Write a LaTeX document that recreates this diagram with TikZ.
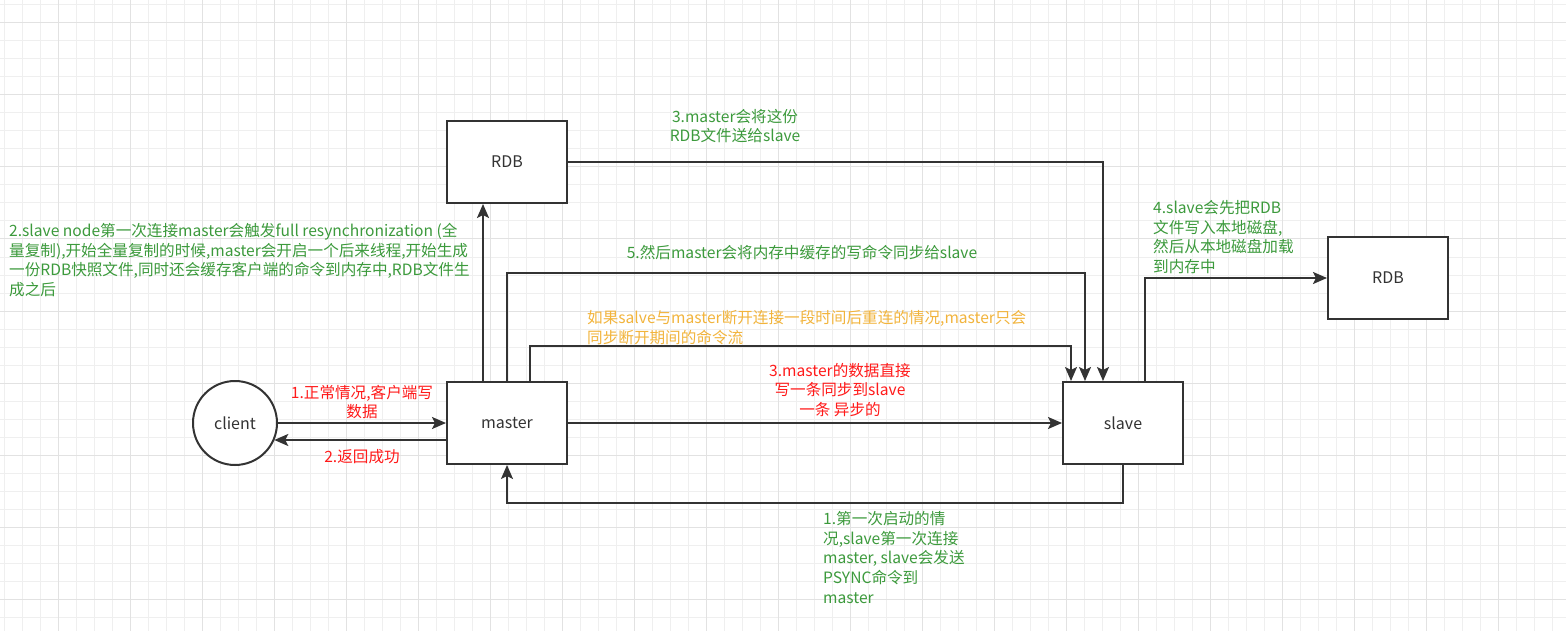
\documentclass[tikz,border=0pt]{standalone}
\usepackage{fontspec}
\setmainfont{Noto Sans CJK SC}
\usetikzlibrary{arrows.meta}
\definecolor{gridminor}{HTML}{EFEFEF}
\definecolor{gridmajor}{HTML}{E2E2E2}
\definecolor{ink}{HTML}{333333}
\definecolor{tgreen}{HTML}{3C9A3C}
\definecolor{tred}{HTML}{FF1A1A}
\definecolor{torange}{HTML}{F2B43C}
\begin{document}
\begin{tikzpicture}[x=1pt,y=-1pt,
  box/.style={draw=ink, line width=2pt, fill=white, minimum width=120pt, minimum height=82pt, inner sep=0pt, font=\fontsize{16}{19}\selectfont, text=ink},
  circ/.style={draw=ink, line width=2pt, fill=white, circle, minimum size=84pt, inner sep=0pt, font=\fontsize{16}{19}\selectfont, text=ink},
  arr/.style={draw=ink, line width=2pt, -{Stealth[length=14pt,width=12pt,inset=3pt]}},
  lbl/.style={inner sep=0pt, font=\fontsize{15.6}{19.6}\selectfont},
  gtext/.style={lbl, text=tgreen},
  rtext/.style={lbl, text=tred},
  otext/.style={lbl, text=torange}]
\useasboundingbox (0,0) rectangle (1566,631);
\fill[white] (0,0) rectangle (1566,631);
% grid
\foreach \k in {0,...,86} {\draw[gridminor, line width=1pt] ({4+18*\k},0) -- ({4+18*\k},631);}
\foreach \k in {0,...,34} {\draw[gridminor, line width=1pt] (0,{5+18*\k}) -- (1566,{5+18*\k});}
\foreach \k in {0,...,21} {\draw[gridmajor, line width=1pt] ({58+72*\k},0) -- ({58+72*\k},631);}
\foreach \k in {0,...,8} {\draw[gridmajor, line width=1pt] (0,{23+72*\k}) -- (1566,{23+72*\k});}

% nodes
\node[box] (rdb1) at (507,162) {RDB};
\node[box] (master) at (507,423) {master};
\node[box] (slave) at (1123,423) {slave};
\node[box] (rdb2) at (1388,278) {RDB};
\node[circ] (client) at (235,423) {client};

% coordinates
\coordinate (c5) at (1085,273);
\coordinate (c6) at (1071,346);
\coordinate (c8) at (1123,503);

% connectors
\draw[arr] (client.east) -- (master.west);
\draw[arr] ([yshift=-17pt]master.west) coordinate (m1) -- (client.-24 |- m1);
\draw[arr] (master.east) -- (slave.west);
\draw[arr] ([xshift=-24pt]master.north) -- ([xshift=-24pt]rdb1.south);
\draw[arr] (rdb1.east) -| ([xshift=-20pt]slave.north);
\draw[arr] (master.north) |- (c5) -- (c5 |- slave.north);
\draw[arr] ([xshift=23pt]master.north) |- (c6) -- (c6 |- slave.north);
\draw[arr] ([xshift=22pt]slave.north) |- (rdb2.west);
\draw[arr] (slave.south) -- (c8) -| (master.south);

% labels
\node[rtext, align=center] (l1) at (362,402) {1.正常情况,客户端写\\数据};
\node[rtext, align=center] (l2) at (362,457) {2.返回成功};
\node[gtext, align=left, anchor=west] (l3) at (9,260) {2.slave node第一次连接master会触发full resynchronization (全\\量复制),开始全量复制的时候,master会开启一个后来线程,开始生成\\一份RDB快照文件,同时还会缓存客户端的命令到内存中,RDB文件生\\成之后};
\node[gtext, align=center] (l4) at (735,126) {3.master会将这份\\RDB文件送给slave};
\node[gtext, align=center] (l5) at (802,253) {5.然后master会将内存中缓存的写命令同步给slave};
\node[otext, align=left, anchor=west] (l6) at (587,327.5) {如果salve与master断开连接一段时间后重连的情况,master只会\\同步断开期间的命令流};
\node[rtext, align=center] (l7) at (840,390) {3.master的数据直接\\写一条同步到slave\\一条 异步的};
\node[gtext, align=left, anchor=west] (l8) at (823,557.5) {1.第一次启动的情\\况,slave第一次连接\\master, slave会发送\\PSYNC命令到\\master};
\node[gtext, align=left, anchor=west] (l9) at (1153,237) {4.slave会先把RDB\\文件写入本地磁盘,\\然后从本地磁盘加载\\到内存中};
\end{tikzpicture}
\end{document}
